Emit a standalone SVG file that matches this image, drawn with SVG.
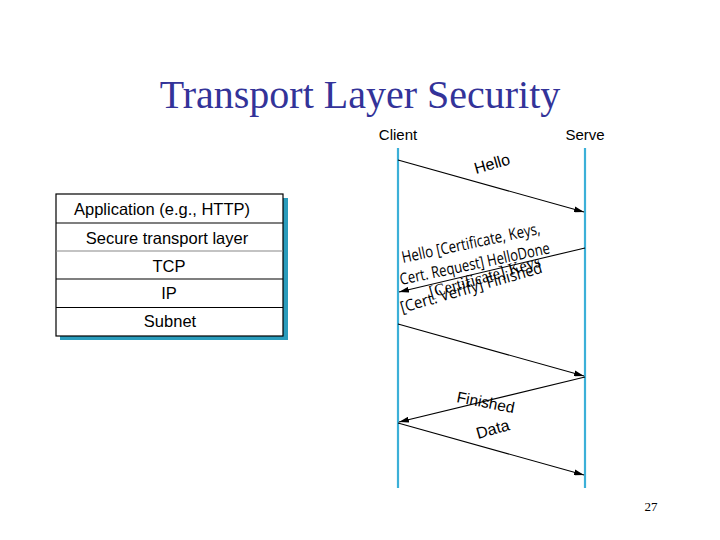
<svg xmlns="http://www.w3.org/2000/svg" width="720" height="540" viewBox="0 0 720 540">
<defs>
<marker id="ah" viewBox="0 0 10 6" refX="10" refY="3" markerWidth="10" markerHeight="6" markerUnits="userSpaceOnUse" orient="auto">
<path d="M0,0 L10,3 L0,6 Z" fill="#000"/>
</marker>
</defs>
<style>
.sans{font-family:"Liberation Sans",Arial,sans-serif;fill:#000}
.lay{font-size:16.5px;text-anchor:middle}
.msg{stroke:#000;stroke-width:1.1;fill:none;marker-end:url(#ah)}
.life{stroke:#3cb0d8;stroke-width:2.2}
.cell{fill:#fff;stroke:#000;stroke-width:1.2}
.os{font-family:"Open Sans","Liberation Sans",sans-serif;font-size:16px;fill:#000}
</style>
<rect width="720" height="540" fill="#fff"/>
<text x="360" y="108" text-anchor="middle" style="font-family:'Liberation Serif','Times New Roman',serif;font-size:40px;fill:#333399">Transport Layer Security</text>

<g id="stack">
<rect x="60" y="198" width="228" height="142" fill="#2a9cbc"/>
<rect class="cell" x="56" y="194" width="227" height="142"/>
<line x1="56" y1="223" x2="283" y2="223" stroke="#000" stroke-width="1.2"/>
<line x1="56" y1="251" x2="283" y2="251" stroke="#888" stroke-width="1.2"/>
<line x1="56" y1="279" x2="283" y2="279" stroke="#000" stroke-width="1.2"/>
<line x1="56" y1="307.5" x2="283" y2="307.5" stroke="#000" stroke-width="1.2"/>
<text class="sans lay" x="162" y="215">Application (e.g., HTTP)</text>
<text class="sans lay" x="167" y="243.5">Secure transport layer</text>
<text class="sans lay" x="169" y="271.5">TCP</text>
<text class="sans lay" x="169" y="298.5">IP</text>
<text class="sans lay" x="170" y="327">Subnet</text>
</g>

<g id="client">
<text class="sans" x="398" y="140" text-anchor="middle" font-size="15">Client</text>
<line class="life" x1="398" y1="148" x2="398" y2="488"/>
</g>
<g id="server">
<text class="sans" x="585" y="140" text-anchor="middle" font-size="15">Serve</text>
<line class="life" x1="585" y1="148" x2="585" y2="488"/>
</g>

<g id="connectors">
<line class="msg" x1="398" y1="160" x2="584" y2="212"/>
<line class="msg" x1="585" y1="248" x2="399" y2="292"/>
<line class="msg" x1="398" y1="324" x2="584" y2="376"/>
<line class="msg" x1="585" y1="377" x2="399" y2="422"/>
<line class="msg" x1="398" y1="423" x2="584" y2="475"/>
</g>

<g id="labels">
<text class="sans" font-size="16" transform="translate(476,174) rotate(-16)">Hello</text>
<text class="os" transform="translate(403,263) rotate(-12)" textLength="141" lengthAdjust="spacingAndGlyphs">Hello [Certificate, Keys,</text>
<text class="os" transform="translate(401,285) rotate(-12)" textLength="153" lengthAdjust="spacingAndGlyphs">Cert. Request] HelloDone</text>
<text style="font-family:'Liberation Serif','Times New Roman',serif;font-size:17px" transform="translate(431,298) rotate(-16)" textLength="115" lengthAdjust="spacingAndGlyphs">[Certificate] Keys</text>
<text class="os" font-size="17" transform="translate(402,313) rotate(-16)" textLength="147" lengthAdjust="spacingAndGlyphs">[Cert. Verify] Finished</text>
<text class="sans" font-size="15.5" transform="translate(456,402) rotate(11)">Finished</text>
<text class="sans" font-size="16" transform="translate(478,439) rotate(-16)">Data</text>
</g>

<text x="651" y="511" text-anchor="middle" style="font-family:'Liberation Serif','Times New Roman',serif;font-size:13px;fill:#000">27</text>
</svg>
